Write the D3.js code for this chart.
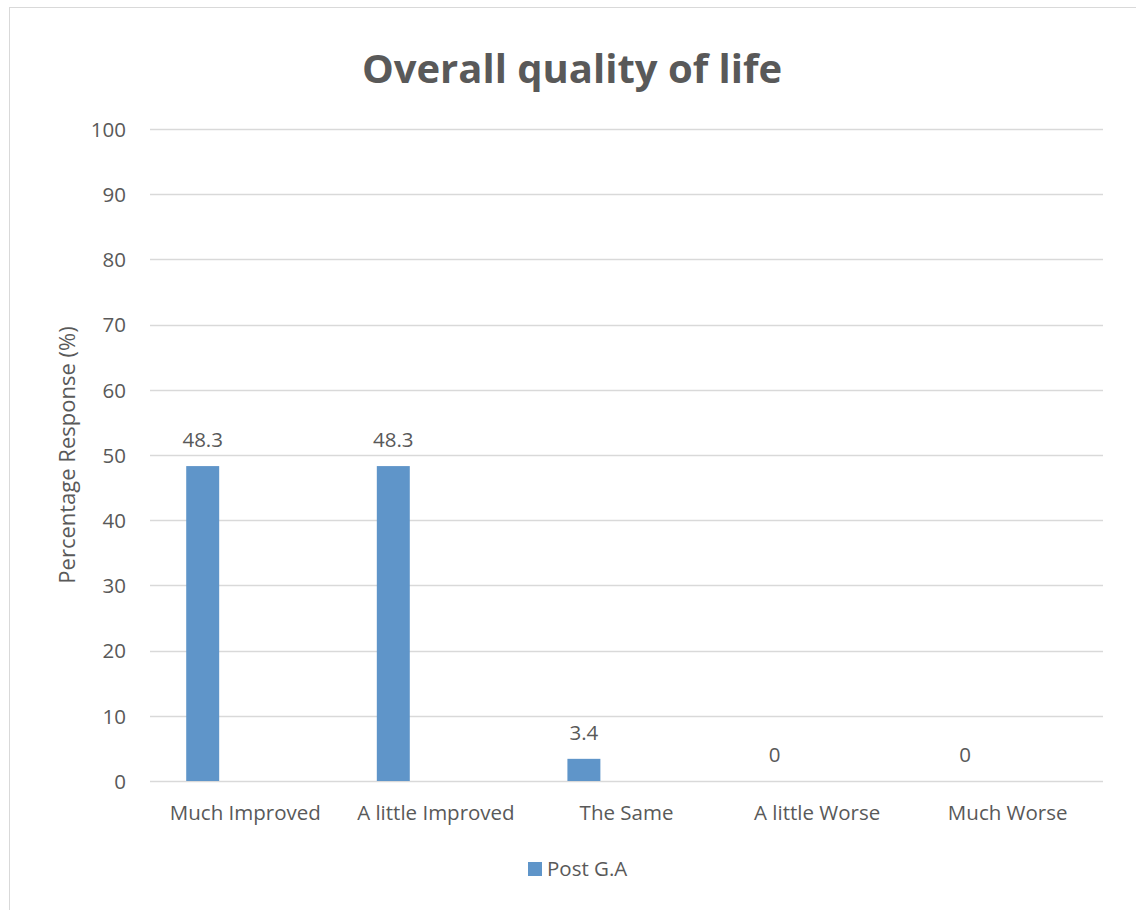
<!DOCTYPE html>
<html>
<head>
<meta charset="utf-8">
<script src="https://cdn.jsdelivr.net/npm/d3@7"></script>
<style>
  html, body { margin: 0; padding: 0; background: #fff; }
  svg { display: block; }
  text { font-family: "Open Sans", "Noto Sans", sans-serif; fill: #595959; }
</style>
</head>
<body>
<svg id="chart" width="1136" height="910"></svg>
<script>
const title = "Overall quality of life";
const categories = ["Much Improved", "A little Improved", "The Same", "A little Worse", "Much Worse"];
const seriesName = "Post G.A";
const values = [48.3, 48.3, 3.4, 0, 0];
const yTicks = [0, 10, 20, 30, 40, 50, 60, 70, 80, 90, 100];
const yLabel = "Percentage Response (%)";

const svg = d3.select("#chart");
const W = 1136, H = 910;
const plot = { left: 150, right: 1103, top: 129, bottom: 781 };
const barColor = "#5F95C9";
const gridColor = "#D9D9D9";
const fs = 20.5;

// outer chart border
svg.append("rect")
  .attr("x", 9.5).attr("y", 7.5)
  .attr("width", W + 10).attr("height", H + 10)
  .attr("fill", "#fff").attr("stroke", "#D9D9D9").attr("stroke-width", 1);

const x = d3.scaleBand().domain(categories).range([plot.left, plot.right]).padding(0);
const y = d3.scaleLinear().domain([0, 100]).range([plot.bottom, plot.top]);

// grid lines
svg.append("g").selectAll("line").data(yTicks).join("line")
  .attr("x1", plot.left).attr("x2", plot.right)
  .attr("y1", d => Math.round(y(d)) + 0.5).attr("y2", d => Math.round(y(d)) + 0.5)
  .attr("stroke", gridColor).attr("stroke-width", 1.3);

// y axis labels
const yAxis = d3.axisLeft(y).tickValues(yTicks).tickSize(0).tickPadding(0);
const yg = svg.append("g").attr("transform", `translate(126,0)`).call(yAxis);
yg.select(".domain").remove();
yg.selectAll("text").attr("font-size", fs).attr("fill", "#595959").attr("dy", "0.36em")
  .style("font-family", '"Open Sans", sans-serif');

// x axis labels
const xAxis = d3.axisBottom(x).tickSize(0).tickPadding(0);
const xg = svg.append("g").attr("transform", `translate(0,820)`).call(xAxis);
xg.select(".domain").remove();
xg.selectAll("text").attr("font-size", fs).attr("fill", "#595959").attr("dy", 0)
  .style("font-family", '"Open Sans", sans-serif');

// bars (first series slot within each category)
const slotOffset = 0.19, slotWidth = 0.173;
const bw = x.bandwidth();
svg.append("g").selectAll("rect").data(values).join("rect")
  .attr("x", (d, i) => x(categories[i]) + bw * slotOffset)
  .attr("width", bw * slotWidth)
  .attr("y", d => y(d))
  .attr("height", d => y(0) - y(d))
  .attr("fill", barColor);

// data labels
svg.append("g").selectAll("text").data(values).join("text")
  .attr("x", (d, i) => x(categories[i]) + bw * (slotOffset + slotWidth / 2))
  .attr("y", d => y(d) - 19)
  .attr("text-anchor", "middle")
  .attr("font-size", fs)
  .text(d => d);

// title
svg.append("text")
  .attr("x", 572)
  .attr("y", 83)
  .attr("text-anchor", "middle")
  .attr("font-size", 40).attr("font-weight", "bold")
  .text(title);

// y label
svg.append("text")
  .attr("transform", `translate(75,${(plot.top + plot.bottom) / 2}) rotate(-90)`)
  .attr("text-anchor", "middle")
  .attr("font-size", 22)
  .text(yLabel);

// legend
const lg = svg.append("g").attr("transform", "translate(528,862)");
lg.append("rect").attr("width", 14).attr("height", 14).attr("fill", barColor);
lg.append("text").attr("x", 19).attr("y", 14).attr("font-size", fs).text(seriesName);
</script>
</body>
</html>
